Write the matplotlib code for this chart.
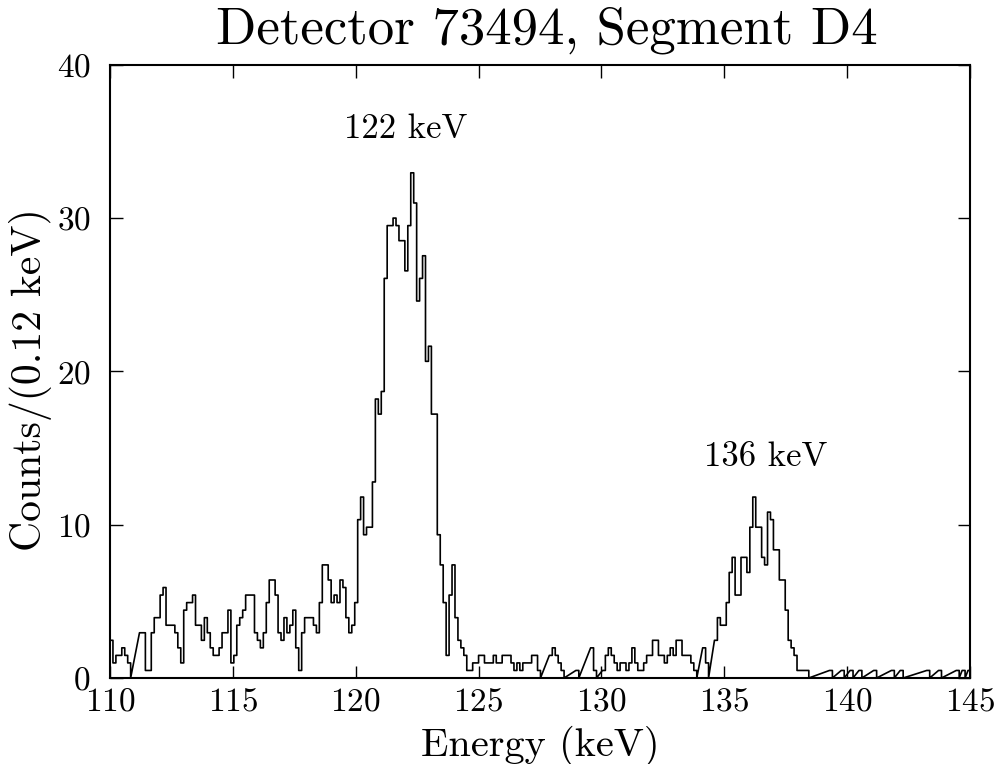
import numpy as np
import matplotlib
matplotlib.use("Agg")
import matplotlib.pyplot as plt

# histogram: 0.12 keV bins starting at 110 keV, raw counts times a bin weight
e_min = 110.0
bin_width = 0.12
weight = 0.492
raw_counts = [
    5, 2, 3, 3, 4, 3, 2, 0, 0, 0,
    6, 6, 1, 1, 6, 8, 8, 11, 12, 7,
    7, 7, 6, 4, 2, 9, 10, 10, 11, 7,
    7, 5, 8, 6, 4, 3, 3, 4, 6, 6,
    9, 2, 3, 7, 8, 9, 11, 11, 11, 6,
    5, 4, 6, 10, 13, 13, 11, 6, 5, 8,
    6, 7, 9, 4, 1, 6, 8, 8, 8, 7,
    6, 10, 15, 15, 13, 10, 11, 10, 13, 12,
    8, 6, 7, 10, 21, 24, 19, 20, 20, 26,
    37, 35, 38, 53, 60, 60, 61, 60, 58, 58,
    54, 60, 67, 63, 50, 53, 56, 42, 44, 35,
    35, 19, 15, 10, 3, 11, 15, 8, 5, 4,
    3, 1, 1, 2, 2, 3, 3, 2, 2, 2,
    3, 2, 2, 3, 3, 3, 2, 1, 2, 1,
    2, 2, 2, 3, 3, 1, 0, 0, 0, 3,
    4, 3, 2, 1, 0, 0, 0, 0, 1, 0,
    0, 0, 0, 4, 1, 0, 0, 1, 3, 4,
    3, 2, 1, 2, 2, 1, 2, 4, 2, 1,
    1, 2, 3, 3, 5, 5, 3, 3, 2, 3,
    4, 3, 5, 5, 3, 3, 3, 2, 1, 0,
    0, 4, 2, 0, 0, 5, 8, 7, 7, 10,
    14, 16, 11, 11, 16, 16, 14, 20, 24, 20,
    20, 16, 15, 22, 21, 17, 17, 13, 13, 9,
    5, 4, 3, 1, 1, 1, 1, 0, 0, 0,
    0, 0, 0, 0, 1, 0, 0, 0, 1, 0,
    0, 1, 0, 0, 1, 0, 0, 0, 0, 1,
    0, 0, 0, 0, 0, 1, 0, 0, 1, 0,
    0, 0, 0, 0, 0, 0, 0, 1, 0, 0,
    0, 1, 0, 0, 0, 0, 0, 1, 0, 1,
    0, 1,
]

peak_labels = ["122 keV", "136 keV"]
peak_label_pos = [(122.05, 35.8), (136.7, 14.4)]

counts = np.array(raw_counts) * weight
edges = e_min + bin_width * np.arange(len(counts) + 1)

# outline like the original plotting package: empty bins are skipped,
# so the pen runs straight from the last drop to the next filled bin
xs, ys = [edges[0]], [0.0]
for i, c in enumerate(counts):
    if c == 0:
        continue
    xs += [edges[i], edges[i + 1]]
    ys += [c, c]
    if i + 1 == len(counts) or counts[i + 1] == 0:
        xs.append(edges[i + 1])
        ys.append(0.0)

plt.rcParams['font.family'] = ['cmr10', 'DejaVu Serif']
plt.rcParams['axes.formatter.use_mathtext'] = True

fig = plt.figure(figsize=(9.97, 7.64), dpi=100)
ax = fig.add_axes([110 / 997, 1 - 678 / 764, 860 / 997, 613 / 764])

ax.plot(xs, ys, color="black", lw=1.2)

for txt, (x, y) in zip(peak_labels, peak_label_pos):
    ax.text(x, y, txt, ha="center", va="center", fontsize=25)

ax.set_xlim(110, 145)
ax.set_ylim(0, 40)
ax.set_xticks(np.arange(110, 146, 5))
ax.set_yticks(np.arange(0, 41, 10))
ax.tick_params(direction="in", length=9, width=1, labelsize=24,
               top=True, right=True)
ax.tick_params(axis="x", pad=7)
ax.tick_params(axis="y", pad=14)
for s in ax.spines.values():
    s.set_linewidth(1.5)

ax.set_xlabel("Energy (keV)", fontsize=29, va="center")
ax.xaxis.set_label_coords(0.5, -0.11)
ax.set_ylabel("Counts/(0.12 keV)", fontsize=30, va="center")
ax.yaxis.set_label_coords(-0.093, 0.486)

fig.text(547 / 997, 1 - 30 / 764, "Detector 73494, Segment D4",
         ha="center", va="center", fontsize=38)

fig.savefig("out.png", dpi=100)
